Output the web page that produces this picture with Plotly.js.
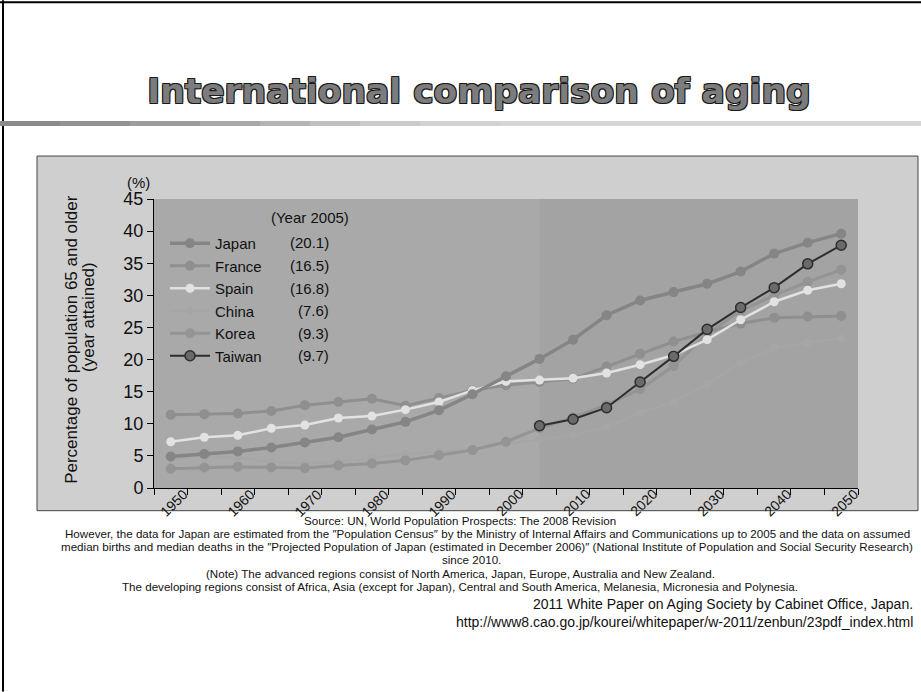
<!DOCTYPE html>
<html>
<head>
<meta charset="utf-8">
<script src="https://cdn.plot.ly/plotly-3.0.1.min.js"></script>
<style>
  html, body { margin: 0; padding: 0; background: #fff; }
  #chart { width: 921px; height: 692px; }
</style>
</head>
<body>
<div id="chart"></div>
<script>
// Share of population aged 65 and over, 1950-2050 (5-year steps)
const years = [1950, 1955, 1960, 1965, 1970, 1975, 1980, 1985, 1990, 1995, 2000,
               2005, 2010, 2015, 2020, 2025, 2030, 2035, 2040, 2045, 2050];
const japan  = [4.9, 5.3, 5.7, 6.3, 7.1, 7.9, 9.1, 10.3, 12.1, 14.6, 17.4,
                20.1, 23.1, 26.9, 29.2, 30.5, 31.8, 33.7, 36.5, 38.2, 39.6];
const france = [11.4, 11.5, 11.6, 12.0, 12.9, 13.4, 13.9, 12.8, 14.0, 15.2, 16.0,
                16.5, 17.0, 18.9, 20.9, 22.8, 24.3, 25.6, 26.5, 26.7, 26.8];
const spain  = [7.2, 7.9, 8.2, 9.3, 9.8, 10.9, 11.2, 12.2, 13.4, 15.2, 16.6,
                16.8, 17.1, 17.9, 19.2, 20.7, 23.1, 26.2, 29.0, 30.8, 31.8];
const china  = [4.5, 4.9, 4.8, 4.0, 3.8, 4.1, 4.7, 5.3, 5.6, 6.1, 6.9,
                7.6, 8.2, 9.5, 11.7, 13.4, 16.2, 19.5, 21.8, 22.6, 23.3];
const korea  = [3.0, 3.2, 3.3, 3.2, 3.1, 3.5, 3.8, 4.3, 5.1, 5.9, 7.2,
                9.3, 11.0, 12.9, 15.4, 19.0, 24.0, 27.6, 30.0, 32.1, 34.0];
const taiwan = [null, null, null, null, null, null, null, null, null, null, null,
                9.7, 10.7, 12.5, 16.5, 20.5, 24.7, 28.1, 31.2, 34.9, 37.8];

const countries = ['Japan', 'France', 'Spain', 'China', 'Korea', 'Taiwan'];
const values2005 = ['(20.1)', '(16.5)', '(16.8)', '(7.6)', '(9.3)', '(9.7)'];
const xLabels = ['1950', '1960', '1970', '1980', '1990', '2000', '2010', '2020', '2030', '2040', '2050'];
const projectionStart = 2005;

// Page geometry (pixels) of the plotting area
const W = 921, H = 692;
const PL = 154, PR = 858, PT = 199, PB = 488.3;
const px = x => (x - PL) / (PR - PL);
const py = y => (PB - y) / (PB - PT);

const FONT = 'Liberation Sans, Arial, sans-serif';

function series(name, y, color, opts) {
  opts = opts || {};
  return {
    type: 'scatter', mode: 'lines+markers', name: name,
    x: years, y: y,
    line: { color: opts.lineColor || color, width: opts.width || 3 },
    marker: { color: color, size: opts.size || 10,
              line: { color: opts.edge || color, width: opts.edgeWidth || 0 } },
    legendrank: countries.indexOf(name) + 1,
    connectgaps: false, hoverinfo: 'x+y+name'
  };
}

const traces = [
  series('China', china, '#a6a6a6', { width: 2, size: 8 }),
  series('Korea', korea, '#949494'),
  series('France', france, '#8f8f8f'),
  series('Spain', spain, '#e2e2e2', { width: 2.5, size: 9 }),
  series('Japan', japan, '#858585', { width: 3.5 }),
  series('Taiwan', taiwan, '#6a6a6a', { lineColor: '#2e2e2e', width: 2, size: 10, edge: '#2e2e2e', edgeWidth: 1.5 })
];

const shapes = [];
// page frame
shapes.push({ type: 'line', xref: 'paper', yref: 'paper', x0: px(0), x1: px(W), y0: py(2), y1: py(2), line: { color: '#000', width: 2 }, layer: 'below' });
shapes.push({ type: 'line', xref: 'paper', yref: 'paper', x0: px(3), x1: px(3), y0: py(0), y1: py(H), line: { color: '#000', width: 2 }, layer: 'below' });
// band under the heading, fading from left to right
const bandTones = ['#8a8a8a', '#929292', '#9c9c9c', '#a8a8a8', '#b4b4b4', '#c0c0c0', '#cbcbcb', '#d2d2d2', '#d6d6d6'];
const bandEdges = [0, 60, 130, 200, 260, 310, 360, 420, 500, W];
bandTones.forEach((c, i) => {
  shapes.push({ type: 'rect', xref: 'paper', yref: 'paper', x0: px(bandEdges[i]), x1: px(bandEdges[i + 1]),
                y0: py(126), y1: py(121), fillcolor: c, line: { width: 0 }, layer: 'below' });
});
// chart panel
shapes.push({ type: 'rect', xref: 'paper', yref: 'paper', x0: px(37), x1: px(918), y0: py(511), y1: py(156),
              fillcolor: '#cfcfcf', line: { color: '#444', width: 1 }, layer: 'below' });
// plotting area and projection period
shapes.push({ type: 'rect', xref: 'paper', yref: 'paper', x0: 0, x1: 1, y0: 0, y1: 1,
              fillcolor: '#a9a9a9', line: { width: 0 }, layer: 'below' });
shapes.push({ type: 'rect', xref: 'x', yref: 'paper', x0: projectionStart, x1: 2052.5, y0: 0, y1: 1,
              fillcolor: '#a3a3a3', line: { width: 0 }, layer: 'below' });

const ann = [];
function note(text, x, y, size, anchor, extra) {
  ann.push(Object.assign({ text: text, xref: 'paper', yref: 'paper', x: px(x), y: py(y),
    xanchor: anchor || 'center', yanchor: 'middle', showarrow: false,
    font: { family: FONT, size: size, color: '#111' } }, extra || {}));
}
// year labels, centred under each decade and turned 45 degrees
xLabels.forEach(t => {
  ann.push({ text: t, xref: 'x', yref: 'paper', x: Number(t), xshift: 3, y: py(503),
             xanchor: 'center', yanchor: 'middle', textangle: -45, showarrow: false,
             font: { family: FONT, size: 14, color: '#111' } });
});
// axis captions
note('(%)', 138, 182, 15);
note('Percentage of population 65 and older', 72, 340, 17, 'center', { textangle: -90 });
note('(year attained)', 89, 317, 17, 'center', { textangle: -90 });
// legend column of 2005 values
note('(Year 2005)', 310, 218, 15);
const rowY0 = 243, rowStep = 22.6;
values2005.forEach((v, i) => note(v, 331, rowY0 + i * rowStep, 15, 'right'));
// source notes
note('Source: UN, World Population Prospects: The 2008 Revision', 460, 521, 11.6);
note('However, the data for Japan are estimated from the ″Population Census″ by the Ministry of Internal Affairs and Communications up to 2005 and the data on assumed', 487, 534, 11.6);
note('median births and median deaths in the ″Projected Population of Japan (estimated in December 2006)″ (National Institute of Population and Social Security Research)', 487, 547, 11.6);
note('since 2010.', 471, 560, 11.6);
note('(Note) The advanced regions consist of North America, Japan, Europe, Australia and New Zealand.', 460, 574, 11.6);
note('The developing regions consist of Africa, Asia (except for Japan), Central and South America, Melanesia, Micronesia and Polynesia.', 460, 587, 11.6);
note('2011 White Paper on Aging Society by Cabinet Office, Japan.', 915, 604, 14, 'right');
note('http://www8.cao.go.jp/kourei/whitepaper/w-2011/zenbun/23pdf_index.html', 915, 622, 14, 'right');

const layout = {
  width: W, height: H,
  margin: { l: PL, r: W - PR, t: PT, b: H - PB, pad: 0 },
  paper_bgcolor: '#ffffff',
  plot_bgcolor: 'rgba(0,0,0,0)',
  title: {
    text: '<b>International comparison of aging</b>',
    x: 479 / W, xanchor: 'center', y: 1 - 91 / H, yanchor: 'middle',
    font: { family: 'DejaVu Sans, Liberation Sans, sans-serif', size: 34.5, color: '#7c7c7c',
            shadow: '1px 1px 0 #1a1a1a, -1px -1px 0 #1a1a1a, 1px -1px 0 #1a1a1a, -1px 1px 0 #1a1a1a' }
  },
  showlegend: true,
  legend: {
    x: px(165), y: py(227), xanchor: 'left', yanchor: 'top',
    bgcolor: 'rgba(0,0,0,0)', borderwidth: 0, itemwidth: 40,
    font: { family: FONT, size: 15, color: '#111' },
    traceorder: 'normal'
  },
  xaxis: {
    range: [1947.5, 2052.5], fixedrange: true,
    showticklabels: false, ticks: '', showgrid: false, zeroline: false,
    showline: true, linecolor: '#000', linewidth: 1,
    minor: { tick0: 1947.5, dtick: 5, ticks: 'outside', ticklen: 6, tickcolor: '#000', tickwidth: 1, showgrid: false }
  },
  yaxis: {
    range: [0, 45], dtick: 5, fixedrange: true,
    ticks: 'outside', ticklen: 6, tickcolor: '#000',
    showgrid: false, zeroline: false,
    showline: true, linecolor: '#000', linewidth: 1,
    tickfont: { family: FONT, size: 18, color: '#111' }
  },
  shapes: shapes,
  annotations: ann
};

Plotly.newPlot('chart', traces, layout, { displayModeBar: false, staticPlot: true });
</script>
</body>
</html>
